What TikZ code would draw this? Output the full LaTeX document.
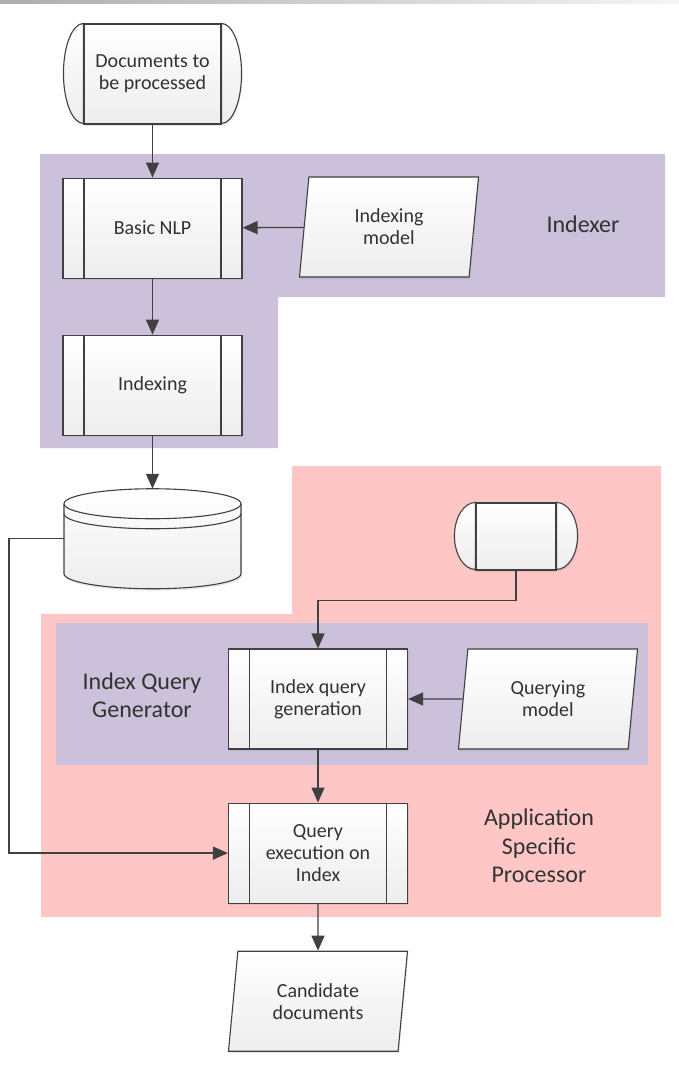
\documentclass[tikz,border=0pt]{standalone}
\usepackage{fontspec}
\setmainfont{Carlito}
\usetikzlibrary{
arrows.meta,
positioning,
shadows,
shapes.geometric
}
\tikzset{>=latex}

\begin{document}
\begin{tikzpicture}[x=1pt, y=1pt, node distance=53pt, font=\fontsize{20}{22}\selectfont]
		\definecolor{linegray}{RGB}{64,64,64}
		\definecolor{textgray}{RGB}{50,50,50}
		\definecolor{indexercolor}{RGB}{204,193,218}
		\definecolor{appcolor}{RGB}{255,198,198}
		\colorlet{querycolor}{indexercolor}
		\tikzset{shapefill/.style={draw=linegray, line width=1.1pt, top color=white, bottom color=black!7, text=textgray,
				drop shadow={shadow xshift=1pt, shadow yshift=-2pt, opacity=0.18}}}
		\tikzset{proc/.style={shapefill, rectangle, minimum width=179pt, minimum height=100pt, align=center,
				path picture={\draw[linegray, line width=1.1pt]
					([xshift=21pt]path picture bounding box.north west) -- ([xshift=21pt]path picture bounding box.south west)
					([xshift=-21pt]path picture bounding box.north east) -- ([xshift=-21pt]path picture bounding box.south east);}}}
		\tikzset{iodata/.style={shapefill, trapezium, trapezium left angle=77.6, trapezium right angle=102.4,
				trapezium stretches body, minimum width=179pt, minimum height=100pt, align=center}}
		\tikzset{termbox/.style={shapefill, rectangle, align=center}}
		\tikzset{termend/.style={shapefill}}
		\tikzset{grouplabel/.style={text=textgray, align=center, font=\fontsize{24}{28.5}\selectfont}}
		\tikzset{arr/.style={-{Triangle[length=15pt,width=13pt]}, draw=linegray, line width=1.3pt}}

		\useasboundingbox (0,0) rectangle (679,-1070);
		\shade[left color=black!32, right color=black!4] (0,0) rectangle (679,-4);

		% Background regions
		\fill[indexercolor] (40,-154) -- (665,-154) -- (665,-297) -- (278,-297) -- (278,-448) -- (40,-448) -- cycle;
		\fill[appcolor] (292,-466) -- (661,-466) -- (661,-917) -- (41,-917) -- (41,-614) -- (292,-614) -- cycle;
		\fill[querycolor] (56,-623) rectangle (648,-765);

		% Input documents
		\node[termbox, minimum width=137pt, minimum height=100pt] (docs) at (152.5,-74) {Documents to\\be processed};
		\draw[termend] (docs.north west) arc[start angle=90, end angle=270, x radius=20pt, y radius=50pt] -- cycle;
		\draw[termend] (docs.north east) arc[start angle=90, end angle=-90, x radius=20pt, y radius=50pt] -- cycle;

		% Indexer
		\node[proc, below=of docs] (nlp) {Basic NLP};
		\node[iodata] (imodel) at (389,-227) {Indexing\\model};
		\node[proc, below=56pt of nlp] (indexing) {Indexing};
		\node[grouplabel] (indexer) at (583,-224) {Indexer};

		% Index store
		\node[minimum width=177pt, minimum height=100pt, inner sep=0pt, outer sep=0pt, below=of indexing] (db) {};
		\draw[shapefill] ([yshift=-15pt]db.north west) -- ([yshift=15pt]db.south west)
			arc[start angle=180, end angle=360, x radius=88.5pt, y radius=15pt]
			-- ([yshift=-15pt]db.north east)
			arc[start angle=0, end angle=180, x radius=88.5pt, y radius=15pt] -- cycle;
		\draw[linegray, line width=1.1pt] ([yshift=-15pt]db.north west) arc[start angle=180, end angle=360, x radius=88.5pt, y radius=15pt];
		\draw[linegray, line width=1.1pt] ([yshift=-25pt]db.north west) arc[start angle=180, end angle=360, x radius=88.5pt, y radius=15pt];

		% Query input
		\node[termbox, minimum width=80pt, minimum height=67pt] (qin) at (516,-536.5) {};
		\draw[termend] (qin.north west) arc[start angle=90, end angle=270, x radius=21pt, y radius=33.5pt] -- cycle;
		\draw[termend] (qin.north east) arc[start angle=90, end angle=-90, x radius=21pt, y radius=33.5pt] -- cycle;

		% Index query generator
		\node[proc] (iqg) at (318,-699) {Index query\\generation};
		\node[iodata] (qmodel) at (548,-699) {Querying\\model};
		\node[grouplabel] (iqglabel) at (142,-695) {Index Query\\Generator};

		% Application specific processor
		\node[proc, below=of iqg] (qexec) {Query\\execution on\\Index};
		\node[grouplabel] (asplabel) at (539,-846) {Application\\Specific\\Processor};

		% Output
		\node[iodata, below=47pt of qexec] (cand) {Candidate\\documents};

		% Flow
		\draw[arr] (docs) -- (nlp);
		\draw[arr] (imodel) -- (nlp);
		\draw[arr] (nlp) -- (indexing);
		\draw[arr] (indexing) -- (db.north);
		\draw[arr] (db.west) -- ++(-55,0) |- (qexec.west);
		\draw[arr] (qin.south) -- ++(0,-30) -| (iqg.north);
		\draw[arr] (qmodel) -- (iqg);
		\draw[arr] (iqg) -- (qexec);
		\draw[arr] (qexec) -- (cand);
	\end{tikzpicture}
\end{document}
